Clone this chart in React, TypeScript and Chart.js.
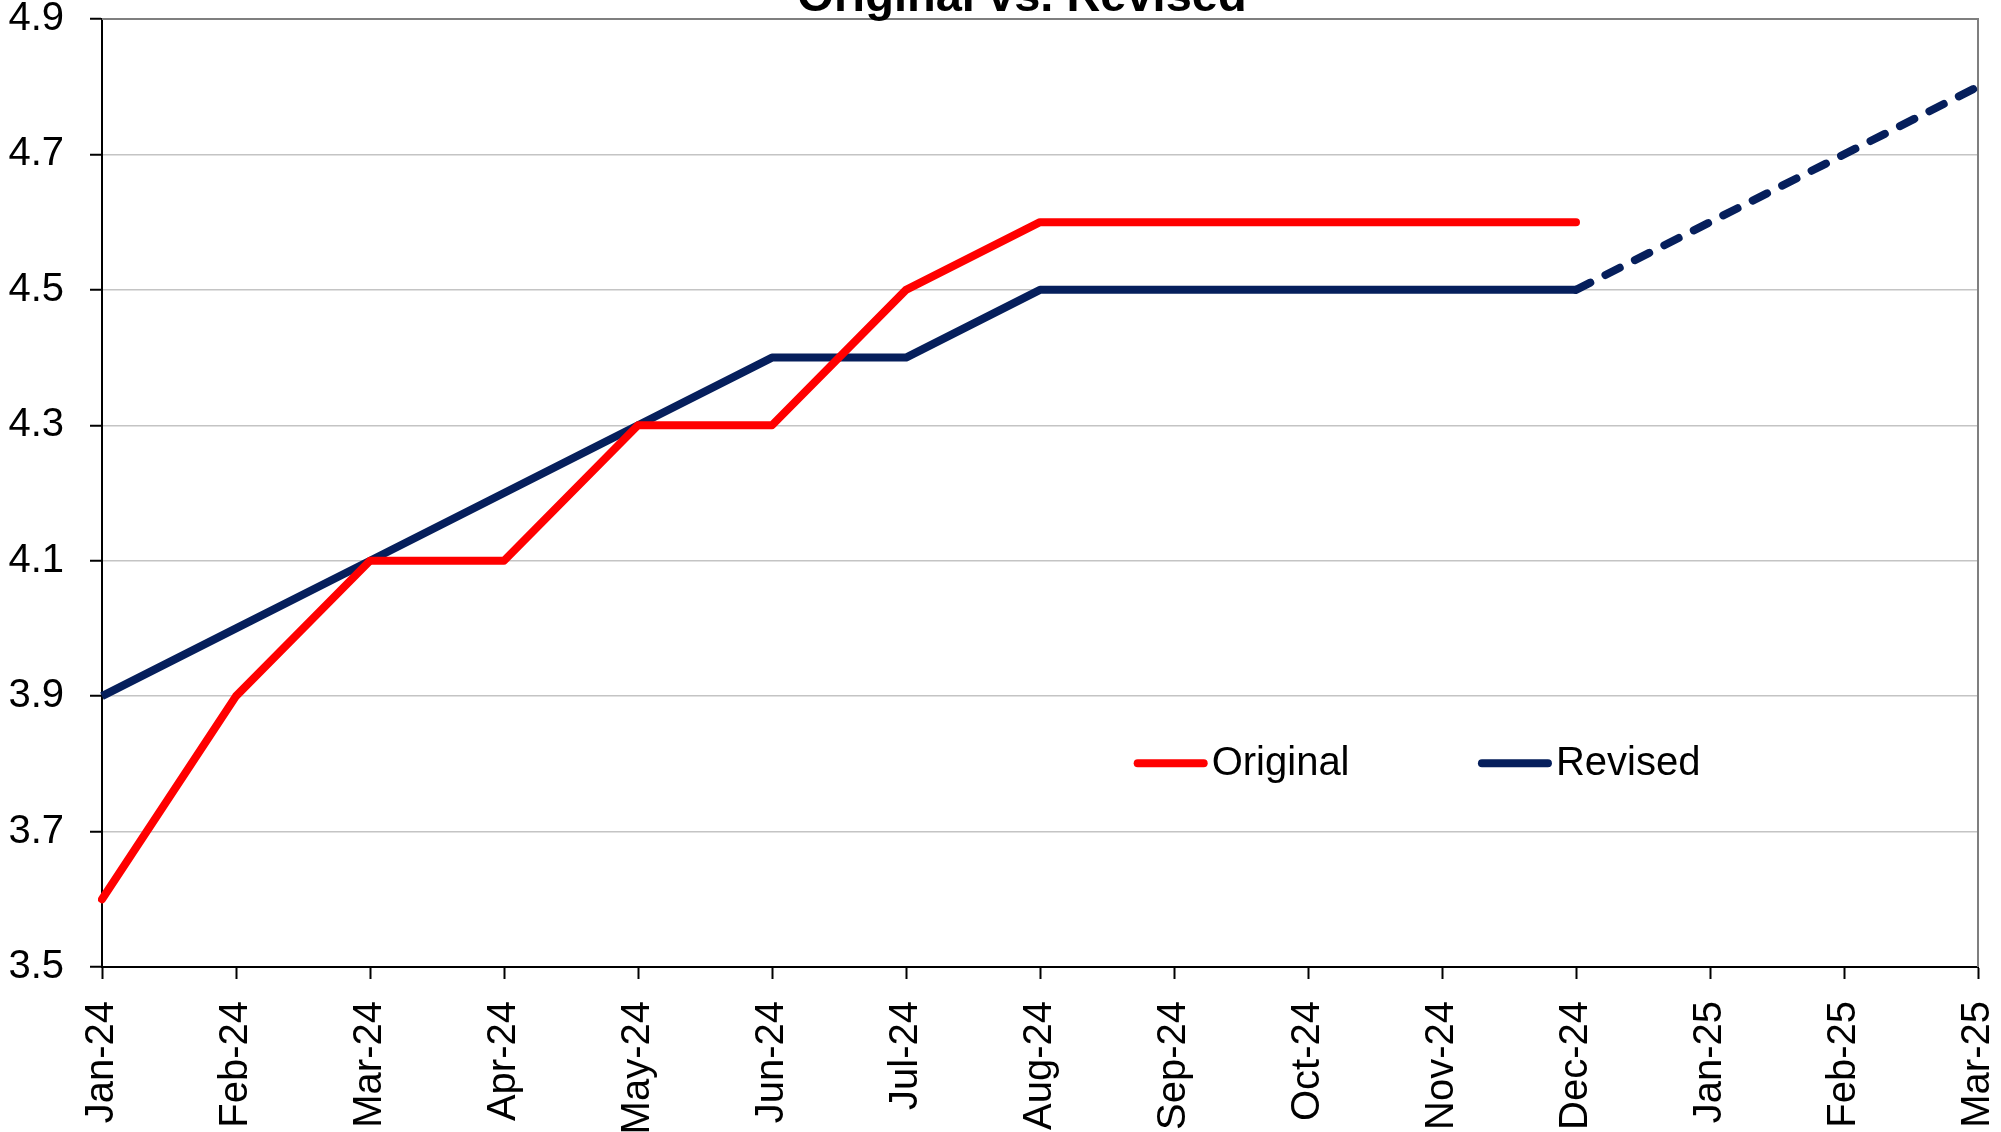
import React, { useEffect, useRef } from "react";
import { Chart, registerables } from "chart.js";

Chart.register(...registerables);

const W = 2001;
const H = 1132;

const titleText = "Original vs. Revised";
const categories = [
  "Jan-24", "Feb-24", "Mar-24", "Apr-24", "May-24", "Jun-24", "Jul-24", "Aug-24",
  "Sep-24", "Oct-24", "Nov-24", "Dec-24", "Jan-25", "Feb-25", "Mar-25",
];
const originalValues = [3.6, 3.9, 4.1, 4.1, 4.3, 4.3, 4.5, 4.6, 4.6, 4.6, 4.6, 4.6, null, null, null];
const revisedValues = [3.9, 4.0, 4.1, 4.2, 4.3, 4.4, 4.4, 4.5, 4.5, 4.5, 4.5, 4.5, null, null, null];
const revisedProjection = [null, null, null, null, null, null, null, null, null, null, null, 4.5, 4.6, 4.7, 4.8];
const yTickValues = [3.5, 3.7, 3.9, 4.1, 4.3, 4.5, 4.7, 4.9];

const RED = "#ff0000";
const NAVY = "#061f5c";
const FONT = "'Liberation Sans', Arial, sans-serif";
const LINE_W = 8;

const titlePlugin = {
  id: "cutTitle",
  afterDraw(chart: any) {
    const ctx = chart.ctx;
    ctx.save();
    ctx.font = `bold 47px ${FONT}`;
    ctx.fillStyle = "#000";
    ctx.textAlign = "center";
    ctx.textBaseline = "alphabetic";
    ctx.fillText(titleText, 1022, 11);
    ctx.restore();
  },
};

const borderPlugin = {
  id: "plotBorder",
  beforeDatasetsDraw(chart: any) {
    const { ctx, chartArea } = chart;
    ctx.save();
    ctx.strokeStyle = "#7f7f7f";
    ctx.lineWidth = 2;
    ctx.beginPath();
    ctx.moveTo(chartArea.left, chartArea.top);
    ctx.lineTo(chartArea.right, chartArea.top);
    ctx.lineTo(chartArea.right, chartArea.bottom);
    ctx.stroke();
    ctx.restore();
  },
};

const legendPlugin = {
  id: "innerLegend",
  afterDraw(chart: any) {
    const { ctx, chartArea } = chart;
    const items = chart.data.datasets.filter((d: any) => d.showInLegend);
    const positions = [0.551, 0.7345];
    const y = chartArea.top + 0.785 * (chartArea.bottom - chartArea.top);
    ctx.save();
    ctx.font = `40px ${FONT}`;
    ctx.textBaseline = "middle";
    ctx.textAlign = "left";
    items.forEach((d: any, i: number) => {
      const x = chartArea.left + positions[i] * (chartArea.right - chartArea.left);
      ctx.strokeStyle = d.borderColor;
      ctx.lineWidth = LINE_W;
      ctx.lineCap = "round";
      ctx.beginPath();
      ctx.moveTo(x + 2, y);
      ctx.lineTo(x + 68, y);
      ctx.stroke();
      ctx.fillStyle = "#000";
      ctx.fillText(d.label, x + 76, y + 1);
    });
    ctx.restore();
  },
};

export default function App() {
  const ref = useRef<HTMLCanvasElement | null>(null);

  useEffect(() => {
    if (!ref.current) return;
    const tickFont = { family: FONT, size: 40 };
    const chart = new Chart(ref.current, {
      type: "line",
      data: {
        labels: categories,
        datasets: [
          {
            label: "Original",
            data: originalValues,
            borderColor: RED,
            backgroundColor: RED,
            borderWidth: LINE_W,
            pointRadius: 0,
            tension: 0,
            borderCapStyle: "round",
            borderJoinStyle: "round",
            spanGaps: false,
            showInLegend: true,
          } as any,
          {
            label: "Revised",
            data: revisedValues,
            borderColor: NAVY,
            backgroundColor: NAVY,
            borderWidth: LINE_W,
            pointRadius: 0,
            tension: 0,
            borderCapStyle: "butt",
            borderJoinStyle: "round",
            showInLegend: true,
          } as any,
          {
            label: "Revised (projection)",
            data: revisedProjection,
            borderColor: NAVY,
            backgroundColor: NAVY,
            borderWidth: LINE_W,
            borderDash: [16, 17],
            borderCapStyle: "round",
            pointRadius: 0,
            tension: 0,
            showInLegend: false,
          } as any,
        ],
      },
      options: {
        animation: false,
        responsive: false,
        maintainAspectRatio: false,
        layout: { padding: { top: 19, right: 23, left: 0, bottom: 0 } },
        plugins: {
          legend: { display: false },
          title: { display: false },
          tooltip: { enabled: false },
        },
        scales: {
          x: {
            type: "category",
            offset: false,
            grid: {
              display: true,
              drawOnChartArea: false,
              tickLength: 12,
              tickColor: "#000",
              tickWidth: 2,
            },
            border: { display: true, color: "#000", width: 2 },
            ticks: {
              autoSkip: false,
              maxRotation: 90,
              minRotation: 90,
              padding: 22,
              color: "#000",
              font: tickFont,
            },
            afterFit: (s: any) => {
              s.height = H - 967;
              s.paddingLeft = 0;
              s.paddingRight = 0;
            },
          },
          y: {
            min: 3.5,
            max: 4.9,
            afterBuildTicks: (s: any) => {
              s.ticks = yTickValues.map((v) => ({ value: v }));
            },
            grid: {
              color: "#c4c4c4",
              lineWidth: 1.5,
              tickLength: 12,
              tickColor: "#000",
              tickWidth: 2,
            },
            border: { display: true, color: "#000", width: 2 },
            ticks: {
              padding: 26,
              color: "#000",
              font: tickFont,
              callback: (v: any) => Number(v).toFixed(1),
            },
            afterFit: (s: any) => {
              s.width = 102;
              s.paddingTop = 0;
              s.paddingBottom = 0;
            },
          },
        },
      } as any,
      plugins: [borderPlugin, legendPlugin, titlePlugin],
    });
    return () => chart.destroy();
  }, []);

  return (
    <div style={{ position: "absolute", left: 0, top: 0, width: W, height: H, background: "#fff" }}>
      <canvas ref={ref} width={W} height={H} style={{ display: "block", width: W, height: H }} />
    </div>
  );
}
